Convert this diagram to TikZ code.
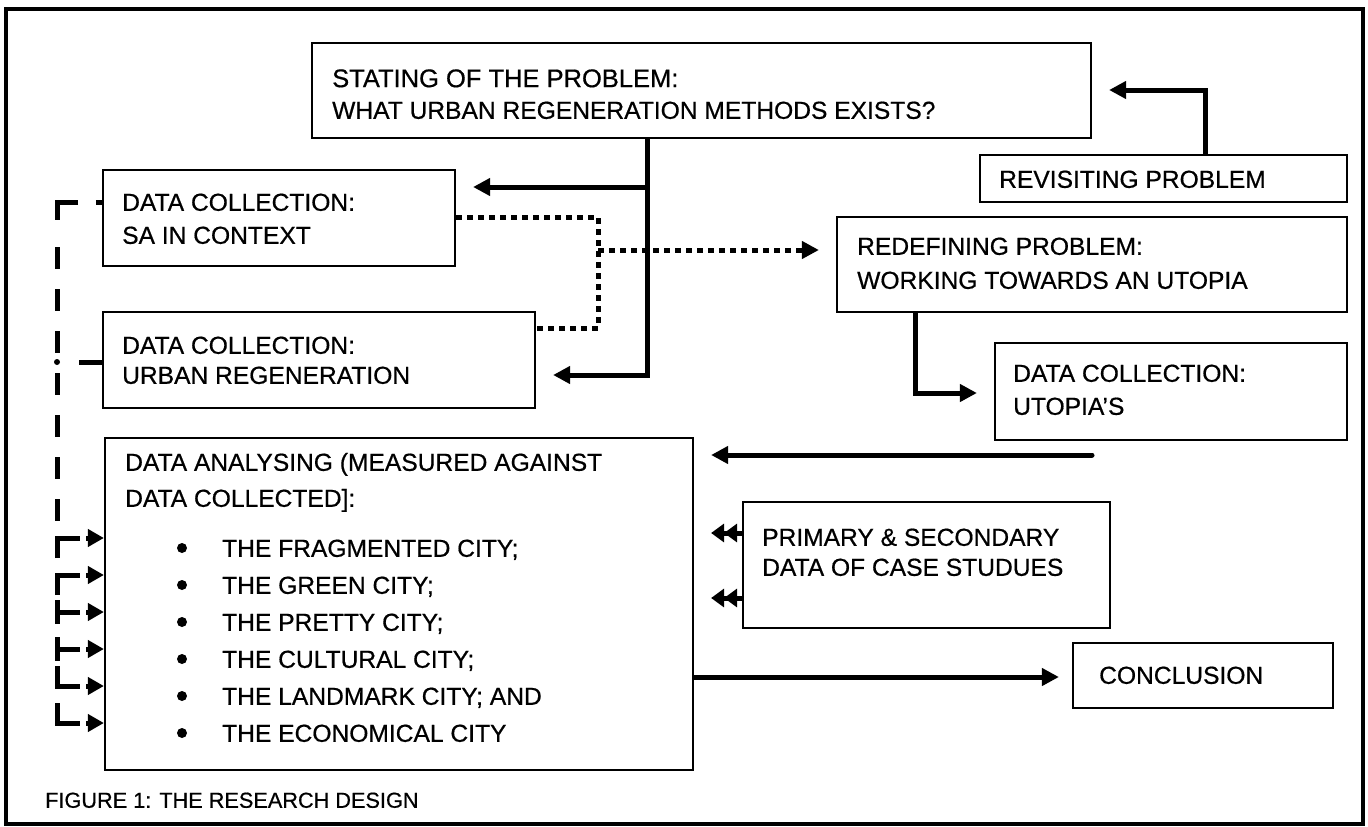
\documentclass[tikz,border=0pt]{standalone}
\usepackage{fontspec}
\setmainfont{Liberation Sans}[FakeBold=0.6]
\usetikzlibrary{arrows.meta,fit}
\begin{document}
\begin{tikzpicture}[x=1pt,y=-1pt,
  box/.style={draw,line width=2.2pt,inner sep=0pt},
  t/.style={inner sep=0pt,anchor=west,font=\fontsize{24.6}{29}\selectfont,text height=17.6pt,text depth=0pt},
  tb/.style={t,font=\fontsize{25.5}{30}\selectfont,text height=18.3pt},
  tc/.style={t,font=\fontsize{21.7}{26}\selectfont,text height=15.5pt},
  arr/.style={line width=5pt,-{Triangle[length=17pt,width=17pt]}},
  dbl/.style={line width=5pt,-{Triangle[length=13pt,width=18pt]Triangle[length=13pt,width=18pt]}},
  dotl/.style={line width=5pt,dash pattern=on 6pt off 5pt},
  lft/.style={line width=5pt},
  tipl/.style={line width=5pt,-{Triangle[length=16pt,width=17pt]}}
]
\useasboundingbox (0,0) rectangle (1368,827);
\draw[line width=4.5pt] (6,9) rectangle (1363,824);

% boxes
\node[box,fit={(312,43) (1091,138)}] (stating) {};
\node[box,fit={(980,155) (1347,202)}] (revis) {};
\node[box,fit={(103,170) (455,266)}] (sa) {};
\node[box,fit={(103,312) (535,408)}] (urban) {};
\node[box,fit={(837,217) (1347,312)}] (redef) {};
\node[box,fit={(995,343) (1347,440)}] (utopia) {};
\node[box,fit={(105,438) (693,770)}] (da) {};
\node[box,fit={(743,502) (1110,628)}] (prim) {};
\node[box,fit={(1073,643) (1333,708)}] (concl) {};

% texts
\node[tb] (st1) at (332,78) {STATING OF THE PROBLEM:};
\node[t] (st2) at (332,110) {WHAT URBAN REGENERATION METHODS EXISTS?};
\node[t] (rv1) at (999,179) {REVISITING PROBLEM};
\node[t] (sa1) at (122,202) {DATA COLLECTION:};
\node[t] (sa2) at (122,235) {SA IN CONTEXT};
\node[t] (ur1) at (122,345) {DATA COLLECTION:};
\node[t] (ur2) at (122,375) {URBAN REGENERATION};
\node[t] (rd1) at (857,246) {REDEFINING PROBLEM:};
\node[t] (rd2) at (857,280) {WORKING TOWARDS AN UTOPIA};
\node[t] (ut1) at (1013,373) {DATA COLLECTION:};
\node[t] (ut2) at (1013,406) {UTOPIA'S};
\node[t] (da1) at (125,462) {DATA ANALYSING (MEASURED AGAINST};
\node[t] (da2) at (125,498) {DATA COLLECTED]:};
\node[t] (b1) at (222,548) {THE FRAGMENTED CITY;};
\node[t] (b2) at (222,585) {THE GREEN CITY;};
\node[t] (b3) at (222,622) {THE PRETTY CITY;};
\node[t] (b4) at (222,659) {THE CULTURAL CITY;};
\node[t] (b5) at (222,696) {THE LANDMARK CITY; AND};
\node[t] (b6) at (222,733) {THE ECONOMICAL CITY};
\foreach \y in {548,585,622,659,696,733} \fill (182,\y) circle (5pt);
\node[t] (pr1) at (762,537) {PRIMARY \& SECONDARY};
\node[t] (pr2) at (762,567) {DATA OF CASE STUDUES};
\node[t] (co1) at (1099,675) {CONCLUSION};
\node[tc] (cap) at (45,800) {FIGURE 1: THE RESEARCH DESIGN};

% stating -> data collection boxes
\coordinate (j1) at (647,187);
\coordinate (j2) at (647,375);
\draw[arr] (stating.south -| j2) -- (j2) -- ([xshift=17pt]urban.east |- j2);
\draw[arr] (j1) -- ([xshift=17pt]sa.east |- j1);

% dotted connectors
\coordinate (d1) at (598,217);
\coordinate (d2) at (598,328);
\coordinate (d3) at (598,250);
\draw[dotl] (sa.east |- d1) -- (d1) -- (d2) -- (urban.east |- d2);
\draw[dotl,-{Triangle[length=17pt,width=17pt]}] (d3) -- ([xshift=-17pt]redef.west |- d3);

% revisiting -> stating
\coordinate (r1) at (1205,90);
\draw[arr] (revis.north -| r1) -- (r1) -- ([xshift=17pt]stating.east |- r1);

% redefining -> utopia
\coordinate (l1) at (915,393);
\draw[arr] (redef.south -| l1) -- (l1) -- ([xshift=-17pt]utopia.west |- l1);

% utopia -> data analysing
\coordinate (u1) at (1092,455);
\draw[arr,line cap=round] (u1) -- ([xshift=17pt]da.east |- u1);

% primary -> data analysing
\coordinate (p1) at (743,533);
\coordinate (p2) at (743,598);
\draw[dbl] (prim.west |- p1) -- ([xshift=17pt]da.east |- p1);
\draw[dbl] (prim.west |- p2) -- ([xshift=17pt]da.east |- p2);

% data analysing -> conclusion
\coordinate (c1) at (693,677);
\draw[arr] (da.east |- c1) -- ([xshift=-13pt]concl.west |- c1);

% left dashed connectors
\coordinate (s1) at (57,202);
\coordinate (s2) at (57,362);
\draw[lft] ([xshift=-6pt]sa.west |- s1) -- (sa.west |- s1);
\draw[lft] (s1) ++(21,0) -- (s1) -- ++(0,18);
\draw[lft,dash pattern=on 22pt off 20pt] (57,247) -- (57,523);
\draw[lft] (urban.west |- s2) -- ++(-23,0);
\fill (s2) circle (3pt);
\draw[lft] (57,558) -- (57,538) -- (80,538);
\draw[lft] (57,595) -- (57,575) -- (80,575);
\draw[lft] (57,600) -- (57,624) (57,612) -- (80,612);
\draw[lft] (57,637) -- (57,661) (57,649) -- (80,649);
\draw[lft] (57,666) -- (57,686) -- (80,686);
\draw[lft] (57,703) -- (57,723) -- (80,723);
\foreach \y in {538,575,612,649,686,723}
  \draw[tipl] (86,\y) -- (da.west |- 0,\y);
\end{tikzpicture}
\end{document}
